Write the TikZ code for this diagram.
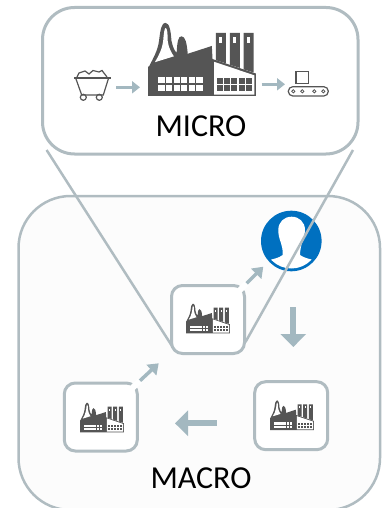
\documentclass[tikz,border=0pt]{standalone}
\usepackage{fontspec}
\setmainfont{Carlito}
\usepackage{tikz}
\usetikzlibrary{arrows.meta,positioning}
\definecolor{framegray}{HTML}{B0BCC1}
\definecolor{arrowgray}{HTML}{A3B8C0}
\definecolor{icongray}{HTML}{555555}
\definecolor{userblue}{HTML}{0070C0}
\tikzset{
    thin arr/.style={-{Triangle[length=8pt,width=12pt]},arrowgray,line width=3.5pt},
    thick arr/.style={-{Triangle[length=13pt,width=25pt]},arrowgray,line width=6pt},
    mid arr/.style={-{Triangle[length=10pt,width=14pt]},arrowgray,line width=3.5pt},
    gap line/.style={white,line width=6pt},
    unit box/.style={draw=framegray,fill=white,line width=3pt,rounded corners=11pt,minimum width=73pt,minimum height=68pt,inner sep=0pt},
    big label/.style={font=\fontsize{32}{32}\selectfont,inner sep=0pt},
    icon line/.style={icongray,line width=1.2pt},
    factory/.pic={
        \fill[icongray] (0,0) -- (0,-85) -- (185,-145) -- (187,-107) -- (313,-65) -- (313,0) -- cycle;
        % plume
        \fill[icongray] (3,-85) .. controls (15,-110) and (28,-130) .. (32,-160) .. controls (36,-195) and (40,-212) .. (50,-212) .. controls (62,-212) and (66,-190) .. (68,-160) .. controls (72,-140) and (78,-130) .. (83,-125) .. controls (85,-160) and (88,-173) .. (97,-173) .. controls (108,-173) and (112,-155) .. (115,-125) -- (115,-110) -- cycle;
        \fill[white] (20,-98) .. controls (30,-115) and (41,-135) .. (44,-160) .. controls (46,-185) and (48,-197) .. (51,-197) .. controls (56,-197) and (57,-180) .. (57,-160) .. controls (60,-140) and (66,-128) .. (75,-115) -- cycle;
        \foreach \x in {197,237,277}{
            \fill[icongray] (\x,-183) -- (\x+29,-183) -- (\x+29,{-98+(\x-187)*.33}) -- (\x,{-107+(\x-187)*.33}) -- cycle;
            \fill[white] (\x+10,-170) rectangle (\x+18,-155);
        }
        \fill[white] (192,-99) -- (308,-60) -- (308,-4) -- (192,-4) -- cycle;
        \foreach \x in {0,...,5}{
            \fill[white] (30+\x*22,-55) rectangle +(18,18);
            \fill[white] (30+\x*22,-31) rectangle +(18,17);
        }
        \foreach \x in {0,...,4}{
            \fill[icongray] (200+\x*21,-53) rectangle +(17,17);
            \fill[icongray] (200+\x*21,-31) rectangle +(17,17);
        }
    },
}

\begin{document}
\begin{tikzpicture}[x=1pt,y=-1pt]
    \useasboundingbox (0,0) rectangle (381,508);

    \coordinate (lens bl) at (46.6,150);
    \coordinate (lens br) at (353,150);
    \coordinate (lens tl) at (172,346);
    \coordinate (lens tr) at (245.5,342);

    % macro frame
    \draw[framegray,fill=black!1,line width=2.5pt,rounded corners=52pt] (18.5,196) rectangle (380,510);

    % customer
    \fill[userblue] (291.3,241) circle (30.3);
    \begin{scope}
        \clip (291.3,241) circle (27.5);
        \fill[white] (282.7,255) .. controls (283,250) and (282,247) .. (281,243) .. controls (279,238) and (278.3,234) .. (278.3,230) .. controls (278.3,222) and (284,216.7) .. (291.7,216.7) .. controls (299,216.7) and (305,222) .. (305,230) .. controls (305,235) and (303,239) .. (301.7,243.3) .. controls (301,247) and (300,251) .. (300,255) .. controls (304,258) and (310,259) .. (313.3,260) -- (320,280) -- (262,280) -- (269.3,260) .. controls (273,259) and (279,258) .. (282.7,255) -- cycle;
    \end{scope}

    % lens
    \draw[framegray,line width=2.5pt] (lens bl) -- (lens tl);
    \draw[framegray,line width=2.5pt] (lens br) -- (lens tr);

    % micro frame
    \draw[framegray,fill=white,line width=3pt,rounded corners=32pt] (42.5,7.5) rectangle (358,154);
    \node[big label] (micro) at (201,126) {MICRO};
    \node[big label] (macro) at (201,478.5) {MACRO};

    \pic[scale=.345] at (148,96) {factory};

    % mine cart
    \coordinate (cart) at (116,87.3);
    \coordinate (plant in) at (140,87.3);
    \draw[thin arr] (cart) -- (plant in);
    \draw[icon line] (74,78) -- (110.7,78);
    \draw[icon line] (76,79) -- (81.7,95) -- (103.3,95) -- (108.3,79);
    \draw[icon line] (83.3,97.3) circle (3) (99.3,97.3) circle (3);
    \draw[icon line] (77,77) -- (79,73) -- (85,71) -- (89,74) -- (93,70.5) -- (99,72) -- (102,70.5) -- (107,77);

    % conveyor
    \coordinate (plant out) at (261.7,84.3);
    \coordinate (belt) at (285,84.3);
    \draw[thin arr] (plant out) -- (belt);
    \draw[icon line] (296,71.7) rectangle (308.3,83.3);
    \draw[icon line,rounded corners=4.5pt] (288.3,86.7) rectangle (328.3,96);
    \foreach \x in {293.3,302.3,314.3,323.3}{
        \draw[icongray,line width=.8pt] (\x,91.3) circle (1.6);
    }

    % supply chain
    \node[unit box] (hub) at (208,319.5) {};
    \node[unit box] (left unit) at (100.8,417) {};
    \node[unit box] (right unit) at (291.2,415.7) {};
    \pic[scale=.14] at (186,333.3) {factory};
    \pic[scale=.14] at (80,432.3) {factory};
    \pic[scale=.14] at (270,430) {factory};

    \coordinate (a1) at (246.7,283.3);
    \coordinate (a2) at (263.3,266.7);
    \coordinate (b1) at (293.3,307.3);
    \coordinate (b2) at (293.3,347);
    \coordinate (c1) at (216.7,423.3);
    \coordinate (c2) at (175,423.3);
    \coordinate (d1) at (140,380.7);
    \coordinate (d2) at (158.7,363.3);
    \draw[gap line] (236,294) -- (a1);
    \draw[gap line] (128,392) -- (d1);
    \draw[mid arr] (a1) -- (a2);
    \draw[thick arr] (b1) -- (b2);
    \draw[thick arr] (c1) -- (c2);
    \draw[mid arr] (d1) -- (d2);
\end{tikzpicture}
\end{document}
